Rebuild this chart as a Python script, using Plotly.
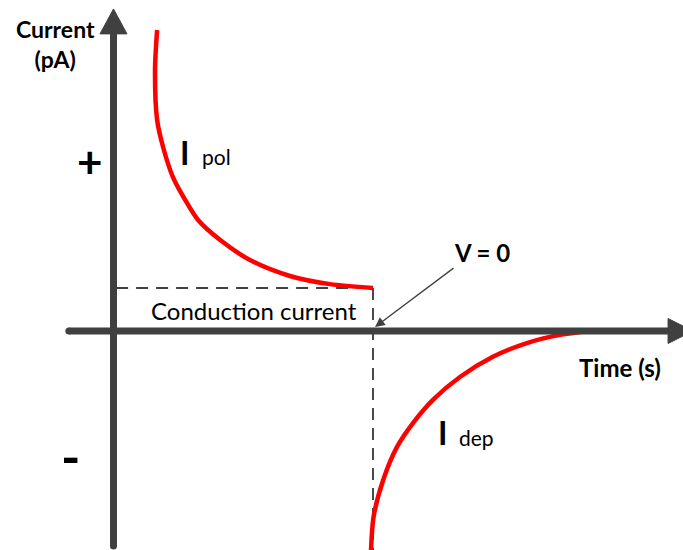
import plotly.graph_objects as go

# Polarisation current after the step voltage is applied (time in s, current in pA)
pol_time = [1.68, 1.60, 1.68, 1.91, 2.29, 2.76, 3.26, 4.10, 5.26, 6.80, 8.34, 10.0]
pol_current = [7.00, 6.07, 4.91, 4.28, 3.58, 3.05, 2.58, 2.12, 1.65, 1.28, 1.09, 1.00]

# Depolarisation current after the voltage is removed (V = 0)
dep_time = [9.92, 10.02, 10.39, 10.92, 11.54, 12.31, 13.35, 14.62, 15.93, 17.21, 18.36]
dep_current = [-5.14, -4.33, -3.47, -2.70, -2.14, -1.60, -1.07, -0.60, -0.28, -0.09, 0.0]

# Steady conduction level and the instant the source is switched off
conduction_level = 1.0
switch_time = 10.0

# Visible window of the schematic
x_range = [-4.374, 21.946]
y_range = [-5.093, 7.698]

AXIS_COLOR = "#404040"
FONT = "Lato"

fig = go.Figure()

# Dashed guides: conduction current level and the switch-off instant
fig.add_trace(go.Scatter(
    x=[0.1, switch_time], y=[conduction_level, conduction_level],
    mode="lines", line=dict(color=AXIS_COLOR, width=1.9, dash="12px,8px"),
    hoverinfo="skip", showlegend=False))
fig.add_trace(go.Scatter(
    x=[switch_time, switch_time], y=[conduction_level, y_range[0] - 0.2],
    mode="lines", line=dict(color=AXIS_COLOR, width=1.9, dash="12px,8px"),
    hoverinfo="skip", showlegend=False))

# Current curves
for xs, ys in ((pol_time, pol_current), (dep_time, dep_current)):
    fig.add_trace(go.Scatter(
        x=xs, y=ys, mode="lines",
        line=dict(color="#ff0000", width=4.5, shape="spline", smoothing=0.8),
        hoverinfo="skip", showlegend=False))

# Hand-drawn style axes with arrow heads
y_axis_bottom, y_axis_tip, y_head_base, y_head_half = -5.0, 7.49, 6.91, 0.52
x_axis_left, x_axis_tip, x_head_base, x_head_half = -1.72, 22.33, 21.37, 0.29

shapes = [
    dict(type="line", xref="x", yref="y", x0=0, x1=0, y0=y_axis_bottom, y1=y_head_base + 0.05,
         line=dict(color=AXIS_COLOR, width=7)),
    dict(type="path", xref="x", yref="y",
         path=f"M {-y_head_half} {y_head_base} L {y_head_half} {y_head_base} L 0 {y_axis_tip} Z",
         fillcolor=AXIS_COLOR, line=dict(color=AXIS_COLOR, width=1)),
    dict(type="line", xref="x", yref="y", x0=x_axis_left, x1=x_head_base + 0.05, y0=0, y1=0,
         line=dict(color=AXIS_COLOR, width=7)),
    dict(type="path", xref="x", yref="y",
         path=f"M {x_head_base} {-x_head_half} L {x_head_base} {x_head_half} L {x_axis_tip} 0 Z",
         fillcolor=AXIS_COLOR, line=dict(color=AXIS_COLOR, width=1)),
]

# Rounded ends on the axis lines
fig.add_trace(go.Scatter(
    x=[0, x_axis_left], y=[y_axis_bottom, 0], mode="markers",
    marker=dict(color=AXIS_COLOR, size=7, line=dict(width=0)),
    hoverinfo="skip", showlegend=False))

black = "#000000"
annotations = [
    dict(x=-2.254, y=6.674, text="<b>Current<br>(pA)</b>", showarrow=False,
         font=dict(family=FONT, size=23, color=black), align="center"),
    dict(x=-0.925, y=3.953, text="<b>+</b>", showarrow=False,
         font=dict(family=FONT, size=44, color=black)),
    dict(x=-1.676, y=-2.907, text="<b>-</b>", showarrow=False,
         font=dict(family=FONT, size=52, color=black)),
    dict(x=2.755, y=4.151, text="<b>I</b>", showarrow=False,
         font=dict(family=FONT, size=32, color=black)),
    dict(x=3.333, y=4.07, text="pol", showarrow=False, xanchor="left",
         font=dict(family=FONT, size=21, color=black)),
    dict(x=12.678, y=-2.349, text="<b>I</b>", showarrow=False,
         font=dict(family=FONT, size=32, color=black)),
    dict(x=13.237, y=-2.465, text="dep", showarrow=False, xanchor="left",
         font=dict(family=FONT, size=21, color=black)),
    dict(x=14.2, y=1.837, text="<b>V = 0</b>", showarrow=False,
         font=dict(family=FONT, size=24, color=black)),
    dict(x=19.518, y=-0.837, text="<b>Time (s)</b>", showarrow=False,
         font=dict(family=FONT, size=24, color=black)),
    dict(x=5.395, y=0.488, text="Conduction current", showarrow=False,
         font=dict(family=FONT, size=24, color=black)),
    # pointer to the switch-off instant
    dict(x=10.077, y=0.093, ax=13.16, ay=1.488, axref="x", ayref="y", text="",
         showarrow=True, arrowhead=2, arrowsize=1.5, arrowwidth=1.3, arrowcolor=AXIS_COLOR),
]

fig.update_layout(
    width=683, height=550,
    margin=dict(l=0, r=0, t=0, b=0),
    paper_bgcolor="white", plot_bgcolor="white",
    xaxis=dict(range=x_range, visible=False, fixedrange=True),
    yaxis=dict(range=y_range, visible=False, fixedrange=True),
    shapes=shapes, annotations=annotations,
    showlegend=False,
)

fig.write_html("out.html")
